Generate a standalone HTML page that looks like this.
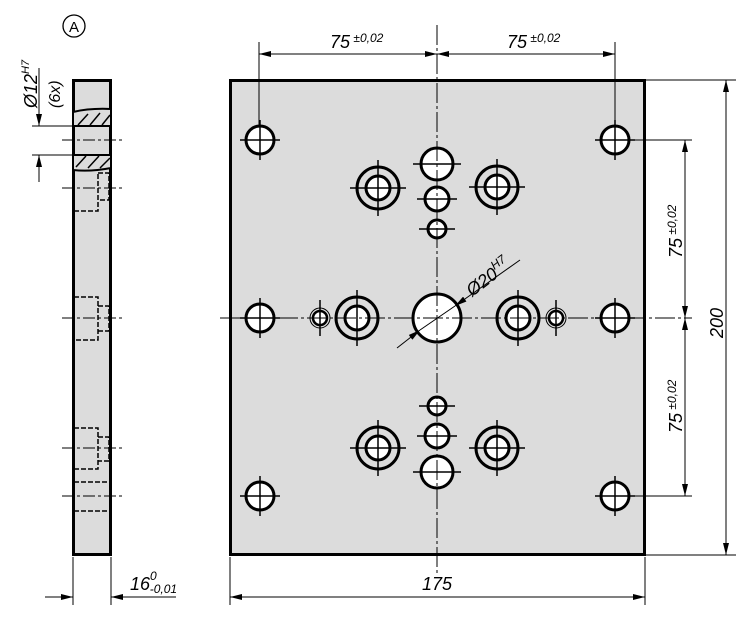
<!DOCTYPE html>
<html><head><meta charset="utf-8"><style>
html,body{margin:0;padding:0;background:#fff;}
svg{display:block;font-family:"Liberation Sans",sans-serif;font-style:italic;}
</style></head><body>
<svg width="750" height="618" viewBox="0 0 750 618" xmlns="http://www.w3.org/2000/svg">
<defs>
<marker id="a" viewBox="0 0 12 6" refX="12" refY="3" markerWidth="12" markerHeight="6" markerUnits="userSpaceOnUse" orient="auto-start-reverse"><path d="M0,0 L12,3 L0,6 z" fill="#000"/></marker>
</defs>
<!-- side view -->
<rect x="73.5" y="80.5" width="37" height="474" fill="#dcdcdc" stroke="#000" stroke-width="3"/>
<path d="M73,112 Q90,108 111,109 L111,126 L73,126 z" fill="#dcdcdc" stroke="#000" stroke-width="2"/>
<path d="M73,155 L111,155 L111,168 Q90,172 73,170 z" fill="#dcdcdc" stroke="#000" stroke-width="2"/>
<g stroke="#000" stroke-width="1.5">
<line x1="78" y1="125" x2="88" y2="114"/><line x1="90" y1="125" x2="100" y2="113"/><line x1="102" y1="125" x2="110" y2="115"/>
<line x1="76" y1="167" x2="86" y2="156"/><line x1="88" y1="168" x2="99" y2="156"/><line x1="100" y1="168" x2="110" y2="158"/>
</g>
<g stroke="#000" stroke-width="1.5" fill="none" stroke-dasharray="5,2">
<path d="M74,211 L98,211 L98,173 M98,173 L109,173 L109,200 L98,200"/>
<path d="M74,297 L98,297 L98,340 L74,340 M98,306 L109,306 L109,331 L98,331"/>
<path d="M74,428 L98,428 L98,469 L74,469 M98,437 L109,437 L109,461 L98,461"/>
<line x1="74" y1="482" x2="110" y2="482"/><line x1="74" y1="511" x2="110" y2="511"/>
</g>
<g stroke="#000" stroke-width="1" stroke-dasharray="12,3,3,3">
<line x1="62" y1="140" x2="122" y2="140"/><line x1="62" y1="188" x2="122" y2="188"/>
<line x1="62" y1="318" x2="122" y2="318"/><line x1="62" y1="448" x2="122" y2="448"/><line x1="62" y1="496" x2="122" y2="496"/>
</g>
<g stroke="#000" stroke-width="1">
<line x1="32" y1="126" x2="73" y2="126"/><line x1="32" y1="155" x2="73" y2="155"/>
<line x1="39" y1="68" x2="39" y2="126" marker-end="url(#a)"/>
<line x1="39" y1="182" x2="39" y2="155" marker-end="url(#a)"/>
<line x1="73" y1="557" x2="73" y2="605"/><line x1="111" y1="557" x2="111" y2="605"/>
<line x1="45" y1="597" x2="73" y2="597" marker-end="url(#a)"/>
<line x1="176" y1="597" x2="111" y2="597" marker-end="url(#a)"/>
</g>
<circle cx="74" cy="26" r="11" fill="none" stroke="#000" stroke-width="1.3"/>
<text x="74" y="32" font-size="15" text-anchor="middle" font-style="normal">A</text>
<text transform="translate(37,108) rotate(-90)" font-size="18">Ø12<tspan font-size="11" dy="-8">H7</tspan></text>
<text transform="translate(60,108) rotate(-90)" font-size="16">(6x)</text>
<text x="130" y="590" font-size="18">16<tspan font-size="12" dy="-10">0</tspan><tspan font-size="12" dx="-7" dy="13">-0,01</tspan></text>

<!-- plate -->
<rect x="230.5" y="80.5" width="414" height="474" fill="#dcdcdc" stroke="#000" stroke-width="3"/>
<g stroke="#000" stroke-width="1">
<line x1="259" y1="42" x2="259" y2="140"/><line x1="615" y1="42" x2="615" y2="140"/>
<line x1="259" y1="54" x2="437" y2="54" marker-start="url(#a)" marker-end="url(#a)"/>
<line x1="437" y1="54" x2="615" y2="54" marker-start="url(#a)" marker-end="url(#a)"/>
<line x1="615" y1="140" x2="692" y2="140"/><line x1="615" y1="496" x2="692" y2="496"/>
<line x1="646" y1="80" x2="736" y2="80"/><line x1="646" y1="555" x2="736" y2="555"/>
<line x1="685" y1="140" x2="685" y2="318" marker-start="url(#a)" marker-end="url(#a)"/>
<line x1="685" y1="318" x2="685" y2="496" marker-start="url(#a)" marker-end="url(#a)"/>
<line x1="726" y1="80" x2="726" y2="555" marker-start="url(#a)" marker-end="url(#a)"/>
<line x1="230" y1="557" x2="230" y2="605"/><line x1="645" y1="557" x2="645" y2="605"/>
<line x1="230" y1="597" x2="645" y2="597" marker-start="url(#a)" marker-end="url(#a)"/>
</g>
<text x="330" y="48" font-size="18">75<tspan font-size="12" dy="-6"> ±0,02</tspan></text>
<text x="507" y="48" font-size="18">75<tspan font-size="12" dy="-6"> ±0,02</tspan></text>
<text transform="translate(682,258) rotate(-90)" font-size="18">75<tspan font-size="12" dy="-6"> ±0,02</tspan></text>
<text transform="translate(682,433) rotate(-90)" font-size="18">75<tspan font-size="12" dy="-6"> ±0,02</tspan></text>
<text transform="translate(723,338) rotate(-90)" font-size="18">200</text>
<text x="437" y="590" font-size="18" text-anchor="middle">175</text>
<text transform="translate(472,297) rotate(-37)" font-size="18">Ø20<tspan font-size="12" dy="-8">H7</tspan></text>

<g fill="#fff" stroke="#000" stroke-width="3">
<circle cx="260" cy="140" r="14"/><circle cx="615" cy="140" r="14"/>
<circle cx="260" cy="318" r="14"/><circle cx="615" cy="318" r="14"/>
<circle cx="260" cy="496" r="14"/><circle cx="615" cy="496" r="14"/>
<circle cx="437" cy="318" r="24"/>
<circle cx="437" cy="164" r="16"/><circle cx="437" cy="199" r="12"/><circle cx="437" cy="229" r="9"/>
<circle cx="437" cy="472" r="16"/><circle cx="437" cy="436" r="12"/><circle cx="437" cy="406" r="9"/>
<circle cx="378" cy="188" r="21" fill="none"/><circle cx="378" cy="188" r="12"/>
<circle cx="497" cy="187" r="21" fill="none"/><circle cx="497" cy="187" r="12"/>
<circle cx="378" cy="448" r="21" fill="none"/><circle cx="378" cy="448" r="12"/>
<circle cx="497" cy="448" r="21" fill="none"/><circle cx="497" cy="448" r="12"/>
<circle cx="357" cy="318" r="21" fill="none"/><circle cx="357" cy="318" r="12"/>
<circle cx="518" cy="318" r="21" fill="none"/><circle cx="518" cy="318" r="12"/>
<circle cx="320" cy="318" r="7" stroke-width="2.5"/><circle cx="556" cy="318" r="7" stroke-width="2.5"/>
</g>
<g fill="none" stroke="#000" stroke-width="1">
<circle cx="320" cy="318" r="10"/><circle cx="556" cy="318" r="10"/>
</g>
<g stroke="#000" stroke-width="1" stroke-dasharray="20,3,3,3">
<line x1="437" y1="25" x2="437" y2="575"/>
<line x1="220" y1="318" x2="692" y2="318"/>
</g>
<g stroke="#000" stroke-width="1">
<line x1="397" y1="348" x2="420" y2="330" marker-end="url(#a)"/>
<line x1="520" y1="260" x2="455" y2="306" marker-end="url(#a)"/>
<line x1="420" y1="330" x2="455" y2="306"/>
</g>
<g stroke="#000" stroke-width="1.5">
<path d="M240,140h40M260,120v40M595,140h40M615,120v40M240,318h40M260,298v40M595,318h40M615,298v40M240,496h40M260,476v40M595,496h40M615,476v40"/>
<path d="M413,164h48M417,199h40M419,229h36M413,472h48M417,436h40M419,406h36"/>
<path d="M350,188h56M378,160v56M469,187h56M497,159v56M350,448h56M378,420v56M469,448h56M497,420v56"/>
<path d="M357,290v56M518,290v56M320,300v36M556,300v36"/>
</g>
</svg>
</body></html>
